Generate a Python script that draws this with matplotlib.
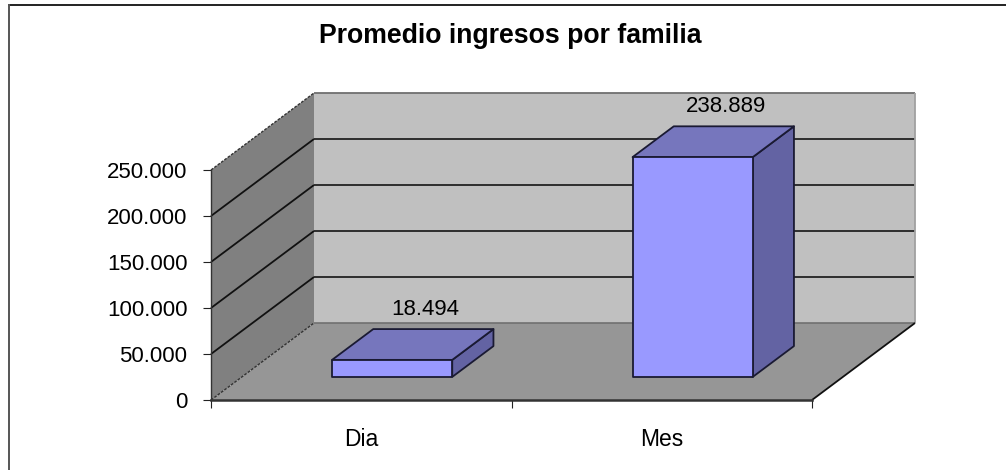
import matplotlib
matplotlib.use("Agg")
import matplotlib.pyplot as plt
from matplotlib.lines import Line2D
from matplotlib.patches import Polygon

plt.rcParams["font.family"] = ["Liberation Sans", "DejaVu Sans"]

# DATA
title = "Promedio ingresos por familia"
categories = ["Dia", "Mes"]
values = [18494, 238889]
value_labels = ["18.494", "238.889"]
y_ticks = [0, 50000, 100000, 150000, 200000, 250000]
y_tick_labels = ["0", "50.000", "100.000", "150.000", "200.000", "250.000"]

# FIGURE, the axes box is the front plane of the 3D chart
W, H = 1006, 470
fig = plt.figure(figsize=(W / 100, H / 100), dpi=100)
ax = fig.add_axes([211 / W, (H - 400) / H, 601 / W, 230 / H])
ax.set_xlim(0, len(categories))
ax.set_ylim(0, y_ticks[-1])

# OBLIQUE DEPTH, in axis units per full depth
depth_x = 103 / 300.5
depth_y = 77 / 230 * 250000


def proj(x, v, d):
    return (x + d * depth_x, v + d * depth_y)


def face(points, color, edge="none", lw=0.0, z=1):
    ax.add_patch(Polygon([proj(*p) for p in points], closed=True, facecolor=color,
                         edgecolor=edge, linewidth=lw, clip_on=False, zorder=z,
                         joinstyle="round"))


def edge(p, q, color="black", lw=1.3, ls="-", z=2):
    a, b = proj(*p), proj(*q)
    ax.plot([a[0], b[0]], [a[1], b[1]], color=color, lw=lw, ls=ls, clip_on=False,
            zorder=z, solid_capstyle="butt")


x_end = len(categories)
top = y_ticks[-1]

# WALLS AND FLOOR
face([(0, 0, 1), (x_end, 0, 1), (x_end, top, 1), (0, top, 1)], "#c0c0c0")
face([(0, 0, 0), (0, 0, 1), (0, top, 1), (0, top, 0)], "#808080")
face([(0, 0, 0), (x_end, 0, 0), (x_end, 0, 1), (0, 0, 1)], "#969696")

# GRIDLINES
for v in y_ticks[1:-1]:
    edge((0, v, 0), (0, v, 1), color="#111111")
    edge((0, v, 1), (x_end, v, 1), color="#222222")
edge((0, top, 0), (0, top, 1), color="#333333", lw=1.0, ls=(0, (2, 1)))
edge((0, top, 1), (x_end, top, 1), color="#707070", lw=1.3)
edge((x_end, 0, 1), (x_end, top, 1), color="#a0a0a0", lw=1.3)
edge((0, 0, 0), (0, 0, 1), color="#333333", lw=1.0, ls=(0, (2, 1)))
edge((0, 0, 1), (x_end, 0, 1), color="#707070", lw=1.2)
edge((x_end, 0, 0), (x_end, 0, 1), color="#111111", lw=1.3)

# BARS
bar_w = 0.4
d0, d1 = 0.3, 0.7
for i, v in enumerate(values):
    c = i + 0.5
    xa, xb = c - bar_w / 2, c + bar_w / 2
    outline = dict(edge="#1a1a33", lw=1.3, z=3)
    face([(xb, 0, d0), (xb, 0, d1), (xb, v, d1), (xb, v, d0)], "#6363a3", **outline)
    face([(xa, v, d0), (xb, v, d0), (xb, v, d1), (xa, v, d1)], "#7676bd", **outline)
    face([(xa, 0, d0), (xb, 0, d0), (xb, v, d0), (xa, v, d0)], "#9999ff", **outline)
    ax.annotate(value_labels[i], proj(c, v, 0.62), xytext=(0, 20), textcoords="offset pixels",
                ha="center", va="baseline", fontsize=16, color="black",
                annotation_clip=False, zorder=4)

# AXES
for name in ["top", "right"]:
    ax.spines[name].set_visible(False)
ax.patch.set_visible(False)
ax.spines["left"].set_color("#333333")
ax.spines["left"].set_linewidth(1.0)
ax.spines["bottom"].set_color("#333333")
ax.spines["bottom"].set_linewidth(1.8)
for s in ax.spines.values():
    s.set_zorder(2.5)
ax.set_yticks(y_ticks, y_tick_labels)
ax.set_xticks(range(len(categories) + 1), [""] * (len(categories) + 1))
ax.set_xticks([i + 0.5 for i in range(len(categories))], categories, minor=True)
ax.tick_params(axis="y", length=5.5, width=0.8, color="#222222", pad=11.5, labelsize=16)
ax.tick_params(axis="x", which="major", length=5.5, width=0.8, color="#222222")
ax.tick_params(axis="x", which="minor", length=0, pad=20, labelsize=16.5)

# TITLE AND CHART AREA FRAME
fig.text(510.5 / W, 1 - 36 / H, title, ha="center", va="center", fontsize=19.2, fontweight="bold")
fig.add_artist(Line2D([9 / W, 1], [1 - 4.5 / H, 1 - 4.5 / H], color="#111111", lw=1.3))
fig.add_artist(Line2D([9 / W, 9 / W], [0, 1 - 4.5 / H], color="#555555", lw=1.4))

fig.savefig("out.png", dpi=100)
